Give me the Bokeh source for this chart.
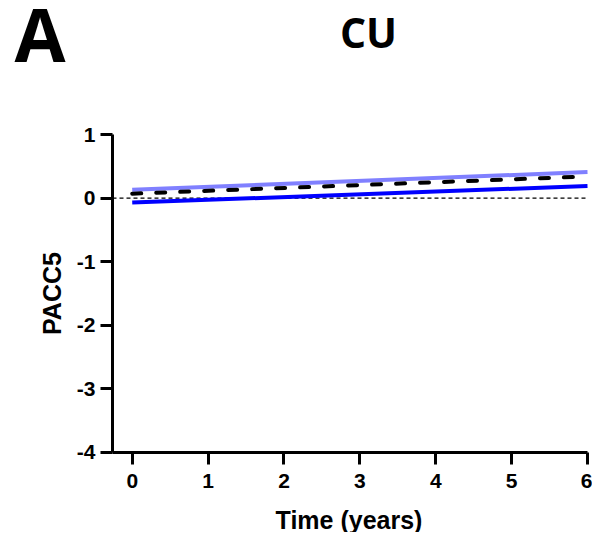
from bokeh.plotting import figure
from bokeh.models import Label, Range1d, FixedTicker
from bokeh.embed import file_html
from bokeh.resources import INLINE

# ---- data ----
time_years = [0, 6]
upper_line = [0.13, 0.41]   # light blue
mean_line = [0.07, 0.34]    # black dashed
lower_line = [-0.07, 0.19]  # blue
x_ticks = [0, 1, 2, 3, 4, 5, 6]
y_ticks = [1, 0, -1, -2, -3, -4]
panel_letter = "A"
panel_title = "CU"
x_label = "Time  (years)"
y_label = "PACC5"

# axis extents (data units)
X_AXIS_START, X_AXIS_END = -0.26, 6.0
Y_AXIS_START, Y_AXIS_END = -4.0, 1.0
zero_ref_x = [X_AXIS_START, X_AXIS_END]
zero_ref_y = [0, 0]

FONT = "Liberation Sans"

# the frame covers the whole canvas (axes placed with fixed_location),
# so that the panel letter, title and labels are not clipped
p = figure(width=592, height=532, output_backend="svg", toolbar_location=None,
           x_range=Range1d(-1.736, 6.066), y_range=Range1d(-5.258, 3.107),
           min_border_left=0, min_border_right=0, min_border_top=0, min_border_bottom=0)
p.frame_width = 592
p.frame_height = 532
p.outline_line_color = None
p.xgrid.visible = False
p.ygrid.visible = False
p.background_fill_color = "white"
p.border_fill_color = "white"

for ax in (p.xaxis[0], p.yaxis[0]):
    ax.axis_line_width = 3
    ax.axis_line_color = "black"
    ax.major_tick_line_width = 3
    ax.major_tick_line_color = "black"
    ax.major_tick_out = 12
    ax.major_tick_in = 0
    ax.minor_tick_line_color = None
    ax.major_label_text_font = FONT
    ax.major_label_text_font_style = "bold"
    ax.major_label_text_font_size = "21px"
    ax.major_label_text_color = "black"
    ax.axis_label_text_font = FONT
    ax.axis_label_text_font_style = "bold"
    ax.axis_label_text_font_size = "25px"
    ax.axis_label_text_color = "black"

p.xaxis.ticker = FixedTicker(ticks=x_ticks)
p.yaxis.ticker = FixedTicker(ticks=y_ticks)
p.xaxis.bounds = (X_AXIS_START, X_AXIS_END)
p.yaxis.bounds = (Y_AXIS_START, Y_AXIS_END)
p.xaxis.fixed_location = Y_AXIS_START
p.yaxis.fixed_location = X_AXIS_START
p.xaxis.major_label_overrides = {t: str(t) for t in x_ticks}
p.yaxis.major_label_overrides = {t: str(t) for t in y_ticks}
p.yaxis.axis_label = y_label
p.xaxis.major_label_standoff = 10
p.yaxis.major_label_standoff = 5
p.yaxis.axis_label_standoff = 8

p.line(zero_ref_x, zero_ref_y, line_color="black", line_width=1.2, line_dash="4 3")

p.line(time_years, upper_line, line_color="#8080FF", line_width=4)
p.line(time_years, lower_line, line_color="#0000FF", line_width=4)
p.line(time_years, mean_line, line_color="black", line_width=4,
       line_dash="9 15", line_cap="round")

# x-axis title (centred under the drawn axis line)
p.add_layout(Label(x=352, y=13, x_units="screen", y_units="screen", text=x_label,
                   text_font=FONT, text_font_style="bold", text_font_size="25px",
                   text_align="center", text_baseline="middle", text_color="black"))
p.add_layout(Label(x=368, y=501, x_units="screen", y_units="screen", text=panel_title,
                   text_font="Open Sans", text_font_style="bold", text_font_size="41px",
                   text_align="center", text_baseline="middle", text_color="black"))
p.add_layout(Label(x=14, y=499, x_units="screen", y_units="screen", text=panel_letter,
                   text_font="Open Sans", text_font_style="bold", text_font_size="74px",
                   text_align="left", text_baseline="middle", text_color="black"))

open("out.html", "w").write(file_html(p, INLINE))
